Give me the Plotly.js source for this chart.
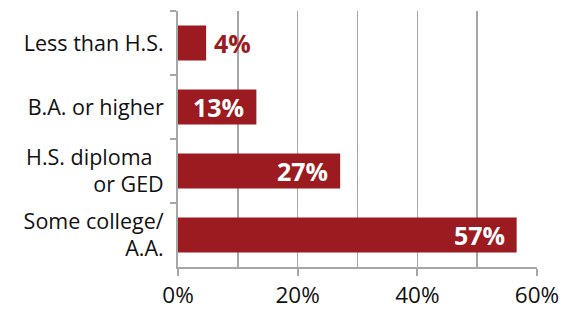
<!DOCTYPE html>
<html><head><meta charset="utf-8">
<script src="https://cdn.plot.ly/plotly-3.0.1.min.js"></script>
<style>html,body{margin:0;padding:0;background:#fff}#chart{width:582px;height:312px}</style>
</head><body><div id="chart"></div>
<script>
const categories = ["Less than H.S.", "B.A. or higher", "H.S. diploma&nbsp;&nbsp;<br>or GED", "Some college/<br>A.A."];
const values = [4.7, 13.1, 27.1, 56.6];
const valueLabels = ["4%", "13%", "27%", "57%"];
const xTickVals = [0, 20, 40, 60];
const xTickText = ["0%", "20%", "40%", "60%"];

const RED = '#9b1b20';
const FONT = 'Open Sans, sans-serif';

const trace = {
  type: 'bar', orientation: 'h',
  x: values, y: categories,
  marker: {color: RED},
  width: 0.55,
  hoverinfo: 'none'
};

const annotations = values.map((v, i) => {
  const outside = i === 0;
  return {
    x: v, y: categories[i], xref: 'x', yref: 'y',
    text: '<b>' + valueLabels[i] + '</b>',
    showarrow: false,
    xanchor: outside ? 'left' : 'right',
    xshift: outside ? 6 : -10,
    yshift: 0,
    font: {family: FONT, size: 25, color: outside ? RED : '#ffffff'}
  };
});

const layout = {
  width: 582, height: 312,
  margin: {l: 177.5, r: 44.5, t: 11, b: 45},
  paper_bgcolor: '#fff', plot_bgcolor: '#fff',
  showlegend: false,
  xaxis: {
    range: [0, 60], tickvals: xTickVals, ticktext: xTickText,
    showgrid: true, gridcolor: '#a6a6a6', gridwidth: 1.5,
    minor: {dtick: 10, tick0: 0, showgrid: true, gridcolor: '#a6a6a6', gridwidth: 1.5, ticks: ''},
    showline: true, linecolor: '#a6a6a6', linewidth: 2,
    ticks: 'outside', ticklen: 7, tickwidth: 2, tickcolor: '#a6a6a6',
    tickfont: {family: FONT, size: 22.5, color: '#111'},
    zeroline: false, fixedrange: true
  },
  yaxis: {
    autorange: 'reversed', type: 'category',
    showline: true, linecolor: '#a6a6a6', linewidth: 2,
    ticks: 'outside', tickson: 'boundaries', ticklen: 6, tickwidth: 2, tickcolor: '#a6a6a6',
    tickfont: {family: FONT, size: 21.5, color: '#111'},
    ticklabelstandoff: 8,
    showgrid: false, zeroline: false, fixedrange: true
  },
  annotations: annotations
};

Plotly.newPlot('chart', [trace], layout, {staticPlot: true, displayModeBar: false});
</script></body></html>
